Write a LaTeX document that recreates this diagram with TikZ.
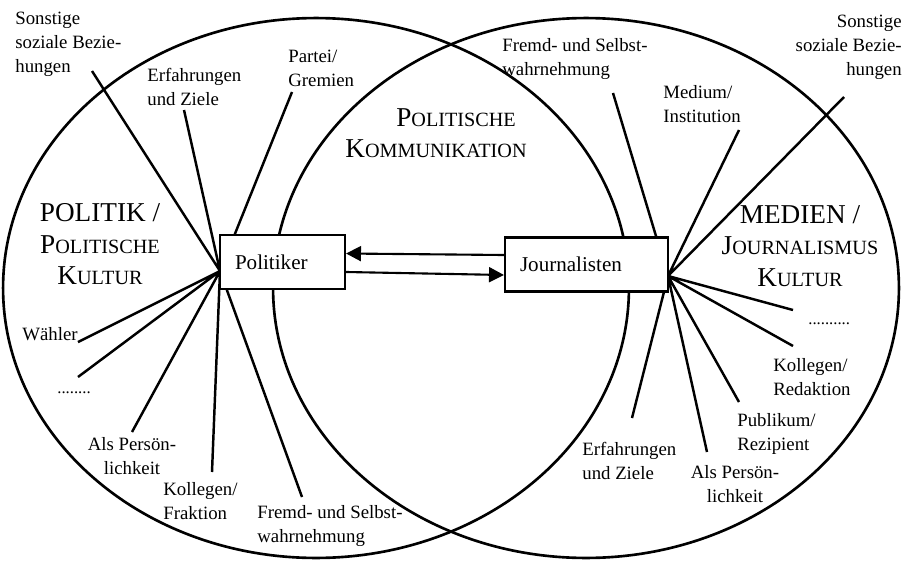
\documentclass[tikz,border=0pt]{standalone}
\usepackage{fontspec}
\setmainfont{Liberation Serif}
\usetikzlibrary{arrows.meta}
\newcommand\kapit[2]{#1{\fontsize{11.5}{18}\selectfont #2}}
\tikzset{
  kreis/.style={line width=1.5pt},
  speiche/.style={line width=1.4pt},
  lbl/.style={inner sep=0pt, align=left, font=\fontsize{10.7}{13.5}\selectfont},
  punkte/.style={inner sep=0pt, font=\fontsize{9.5}{10}\selectfont},
  titel/.style={inner sep=0pt, align=center, font=\fontsize{15.5}{18}\selectfont},
  akteur/.style={draw, fill=white, line width=1.2pt, inner xsep=0.3cm, inner ysep=0pt,
    minimum height=1.08cm, align=left, font=\fontsize{12}{14}\selectfont},
  pfeil/.style={line width=1.2pt, -{Triangle[length=8.5pt,width=8.5pt]}}
}
\begin{document}
\begin{tikzpicture}[x=0.02cm,y=-0.02cm]
\useasboundingbox (0,0) rectangle (906,561);
\draw[kreis] (316,288) ellipse [x radius=6.26cm, y radius=5.4cm];
\draw[kreis] (586,288) ellipse [x radius=6.26cm, y radius=5.4cm];
\coordinate (hubL) at (220,271);
\coordinate (hubR) at (668,276);
\coordinate (eSonstL) at (92,71);
\coordinate (eErfL) at (184,110);
\coordinate (eParteiL) at (292,92);
\coordinate (eWaehlerL) at (78,342);
\coordinate (ePunkteL) at (78,377);
\coordinate (ePersL) at (132,432);
\coordinate (eKollL) at (212,472);
\coordinate (eFremdL) at (302,497);
\coordinate (eFremdR) at (613,93);
\coordinate (eMediumR) at (739,130);
\coordinate (eSonstR) at (844,97);
\coordinate (ePunkteR) at (793,310);
\coordinate (eKollR) at (793,346);
\coordinate (ePublR) at (739,402);
\coordinate (ePersR) at (707,452);
\coordinate (eErfR) at (632,418);
\draw[speiche] (hubL) -- (eSonstL) (hubL) -- (eErfL) (hubL) -- (eParteiL) (hubL) -- (eWaehlerL)
  (hubL) -- (ePunkteL) (hubL) -- (ePersL) (hubL) -- (eKollL) (hubL) -- (eFremdL);
\draw[speiche] (hubR) -- (eFremdR) (hubR) -- (eMediumR) (hubR) -- (eSonstR) (hubR) -- (ePunkteR)
  (hubR) -- (eKollR) (hubR) -- (ePublR) (hubR) -- (ePersR) (hubR) -- (eErfR);
\node[akteur, text width=1.9cm] (politiker) at (282.5,262) {Politiker};
\node[akteur, text width=2.66cm] (journ) at (586.5,264.5) {Journalisten};
\draw[pfeil] ([yshift=0.19cm]journ.west) -- ([yshift=0.17cm]politiker.east);
\draw[pfeil] ([yshift=-0.2cm]politiker.east) -- ([yshift=-0.21cm]journ.west);
\node[titel, anchor=north] (politik) at (100,203) {POLITIK /\\\kapit{P}{OLITISCHE}\\\kapit{K}{ULTUR}};
\node[titel, anchor=north] (medien) at (800,205) {MEDIEN /\\\kapit{J}{OURNALISMUS}\\\kapit{K}{ULTUR}};
\node[titel, anchor=north west, align=left] (polkom) at (345,108) {\hspace*{29pt}\kapit{P}{OLITISCHE}\\\kapit{K}{OMMUNIKATION}};
\node[lbl, anchor=north west] (sonstL) at (15,12) {Sonstige\\soziale Bezie-\\hungen};
\node[lbl, anchor=north west] (erfL) at (147,68) {Erfahrungen\\und Ziele};
\node[lbl, anchor=north west] (parteiL) at (288,50) {Partei/\\Gremien};
\node[lbl, anchor=base west] (waehlerL) at (22,340) {Wähler};
\node[punkte, anchor=base west] (punkteL) at (57,393) {........};
\node[lbl, anchor=north, align=center] (persL) at (132,437) {Als Persön-\\lichkeit};
\node[lbl, anchor=north west] (kollL) at (163,482) {Kollegen/\\Fraktion};
\node[lbl, anchor=north west] (fremdL) at (257,505) {Fremd- und Selbst-\\wahrnehmung};
\node[lbl, anchor=north west] (fremdR) at (502,38) {Fremd- und Selbst-\\wahrnehmung};
\node[lbl, anchor=north west] (mediumR) at (663,85) {Medium/\\Institution};
\node[lbl, anchor=north east, align=right] (sonstR) at (902,15) {Sonstige\\soziale Bezie-\\hungen};
\node[punkte, anchor=base west] (punkteR) at (808,324) {..........};
\node[lbl, anchor=north west] (kollR) at (773,358) {Kollegen/\\Redaktion};
\node[lbl, anchor=north west] (publR) at (737,413) {Publikum/\\Rezipient};
\node[lbl, anchor=north, align=center] (persR) at (735,465) {Als Persön-\\lichkeit};
\node[lbl, anchor=north west] (erfR) at (582,442) {Erfahrungen\\und Ziele};
\end{tikzpicture}
\end{document}
